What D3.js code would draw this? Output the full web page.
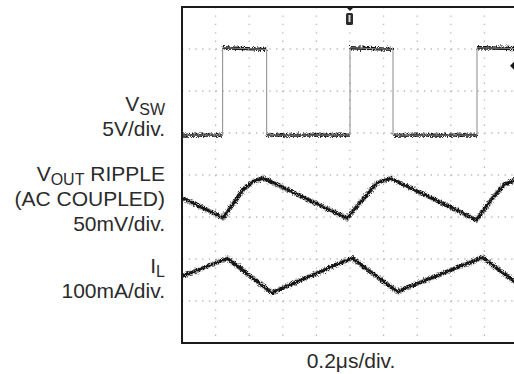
<!DOCTYPE html>
<html>
<head>
<meta charset="utf-8">
<script src="https://cdn.jsdelivr.net/npm/d3@7"></script>
<style>
  html, body { margin: 0; padding: 0; background: #fff; }
  svg { display: block; }
  text { font-family: "Liberation Sans", Arial, sans-serif; fill: #2b2b2b; }
</style>
</head>
<body>
<div id="scope"></div>
<script>
// time base: 0.2us/div, 10 divisions shown (right edge is cut off by the page)
const timeDivs = [0, 0.2, 0.4, 0.6, 0.8, 1.0, 1.2, 1.4, 1.6, 1.8, 2.0];
const levelDivs = [0, 1, 2, 3, 4, 5, 6, 7, 8];

// switch node, volts
const vswTime  = [0, 0.242, 0.242, 0.504, 0.504, 1.0, 1.0, 1.256, 1.256, 1.756, 1.756, 2.0];
const vswVolts = [0, 0, 10.4, 10.2, 0, 0, 10.4, 10.2, 0, 0, 10.4, 10.3];

// output ripple, mV (AC coupled)
const rippleTime = [0, 0.244, 0.363, 0.417, 0.482, 0.982, 1.083, 1.161, 1.242, 1.754, 1.838, 1.917, 1.976, 2.0];
const rippleMv   = [1, -23, 10, 19.5, 24.5, -23.5, 0.5, 18.5, 24, -25.5, -2, 16, 22, 24];

// inductor current, mA (AC part)
const ilTime = [0, 0.272, 0.534, 1.012, 1.282, 1.788, 2.0];
const ilMa   = [-2, 40, -41.5, 41, -39, 42.5, -21];

// channel settings: units per division and screen offset in divisions
const chPerDiv = [5, 50, 100];
const chOffset = [4.95, 3.44, 1.613];

const chName  = [['V', 'SW', ''], ['V', 'OUT', ' RIPPLE'], ['I', 'L', '']];
const chNotes = [['5V/div.'], ['(AC COUPLED)', '50mV/div.'], ['100mA/div.']];
const timeLabel = '0.2\u03bcs/div.';

let W = 514, H = 374;
let screen = {left: 182, top: 7, size: 336};

let x = d3.scaleLinear().domain([0, 2.0]).range([screen.left, screen.left + screen.size]);
let y = d3.scaleLinear().domain([0, 8]).range([screen.top + screen.size, screen.top]);

let svg = d3.select('#scope').append('svg')
  .attr('width', W)
  .attr('height', H);

let defs = svg.append('defs');
defs.append('clipPath').attr('id', 'screen')
  .append('rect')
  .attr('x', x(0)).attr('y', y(8))
  .attr('width', x(2) - x(0)).attr('height', y(0) - y(8));

// scope noise on the traces
let f = defs.append('filter').attr('id', 'jitter')
  .attr('filterUnits', 'userSpaceOnUse')
  .attr('x', 0).attr('y', 0).attr('width', W).attr('height', H);
f.append('feTurbulence')
  .attr('type', 'fractalNoise')
  .attr('baseFrequency', '1.4 0.9')
  .attr('numOctaves', 2)
  .attr('seed', 4)
  .attr('result', 'turb');
f.append('feDisplacementMap')
  .attr('in', 'SourceGraphic')
  .attr('in2', 'turb')
  .attr('scale', 5)
  .attr('xChannelSelector', 'R')
  .attr('yChannelSelector', 'G');

// graticule, dotted
let grid = svg.append('g').attr('class', 'grid');
grid.selectAll('line.v')
  .data(timeDivs.slice(1))
  .enter().append('line')
  .attr('class', 'v')
  .attr('x1', function(d) { return x(d); })
  .attr('x2', function(d) { return x(d); })
  .attr('y1', y(8))
  .attr('y2', y(0))
  .attr('stroke', '#b8b8b8')
  .attr('stroke-width', 1.3)
  .attr('stroke-dasharray', '1.3,' + (42 / 5 - 1.3));

grid.selectAll('line.h')
  .data(levelDivs.slice(1, -1))
  .enter().append('line')
  .attr('class', 'h')
  .attr('y1', function(d) { return y(d); })
  .attr('y2', function(d) { return y(d); })
  .attr('x1', x(0))
  .attr('x2', x(2))
  .attr('stroke', '#b8b8b8')
  .attr('stroke-width', 1.3)
  .attr('stroke-dasharray', '1.3,' + (33.6 / 5 - 1.3));

function toPoints(ts, vs, ch) {
  return ts.map(function(t, i) {
    return {t: t, div: chOffset[ch] + vs[i] / chPerDiv[ch]};
  });
}

let line = d3.line()
  .x(function(d) { return x(d.t); })
  .y(function(d) { return y(d.div); });

let traces = svg.append('g').attr('clip-path', 'url(#screen)');
let noisy = traces.append('g').attr('filter', 'url(#jitter)');

// switch node: thin edges, heavy flat tops
let vsw = toPoints(vswTime, vswVolts, 0);
traces.append('path')
  .datum(vsw)
  .attr('d', line)
  .attr('fill', 'none')
  .attr('stroke', '#8a8a8a')
  .attr('stroke-width', 1);

let flats = [];
for (let i = 0; i < vsw.length - 1; i++) {
  if (vsw[i + 1].t !== vsw[i].t) flats.push([vsw[i], vsw[i + 1]]);
}
noisy.selectAll('path.flat')
  .data(flats)
  .enter().append('path')
  .attr('class', 'flat')
  .attr('d', line)
  .attr('fill', 'none')
  .attr('stroke', '#161616')
  .attr('stroke-width', 3.3);

[toPoints(rippleTime, rippleMv, 1), toPoints(ilTime, ilMa, 2)].forEach(function(pts) {
  noisy.append('path')
    .datum(pts)
    .attr('d', line)
    .attr('fill', 'none')
    .attr('stroke', '#5e5e5e')
    .attr('stroke-width', 5)
    .attr('stroke-opacity', 0.55);
  noisy.append('path')
    .datum(pts)
    .attr('d', line)
    .attr('fill', 'none')
    .attr('stroke', '#161616')
    .attr('stroke-width', 3);
});

// screen frame
svg.append('rect')
  .attr('x', x(0))
  .attr('y', y(8))
  .attr('width', x(2) - x(0))
  .attr('height', y(0) - y(8))
  .attr('fill', 'none')
  .attr('stroke', '#1a1a1a')
  .attr('stroke-width', 2);

// trigger position marker (centre of the time base) and level marker
let tx = x(1.0);
svg.append('path')
  .attr('d', 'M' + (tx - 4) + ',' + y(8) + 'L' + (tx + 4) + ',' + y(8) + 'L' + tx + ',' + (y(8) + 4) + 'Z')
  .attr('fill', '#1a1a1a');
svg.append('rect')
  .attr('x', tx - 4).attr('y', y(8) + 6)
  .attr('width', 7).attr('height', 12)
  .attr('rx', 1.5)
  .attr('fill', '#2a2a2a');
svg.append('rect')
  .attr('x', tx - 1.5).attr('y', y(8) + 8)
  .attr('width', 2).attr('height', 7)
  .attr('fill', '#d8d8d8');
svg.append('path')
  .attr('d', 'M514,' + (y(6.6) - 4) + 'L510,' + y(6.6) + 'L514,' + (y(6.6) + 4) + 'Z')
  .attr('fill', '#1a1a1a');

// channel captions
let baseY = [111, 181, 273];
let labels = svg.append('g').attr('text-anchor', 'end').style('font-size', '21px');
chName.forEach(function(n, i) {
  let t = labels.append('text').attr('x', 165).attr('y', baseY[i]);
  t.append('tspan').text(n[0]);
  t.append('tspan').attr('dy', 4).style('font-size', '16px').text(n[1]);
  if (n[2]) t.append('tspan').attr('dy', -4).text(n[2]);
  chNotes[i].forEach(function(s, j) {
    labels.append('text')
      .attr('x', 165)
      .attr('y', baseY[i] + 25 * (j + 1))
      .text(s);
  });
});

svg.append('text')
  .attr('x', x(1.0) + 1)
  .attr('y', 368)
  .attr('text-anchor', 'middle')
  .style('font-size', '21px')
  .text(timeLabel);
</script>
</body>
</html>
